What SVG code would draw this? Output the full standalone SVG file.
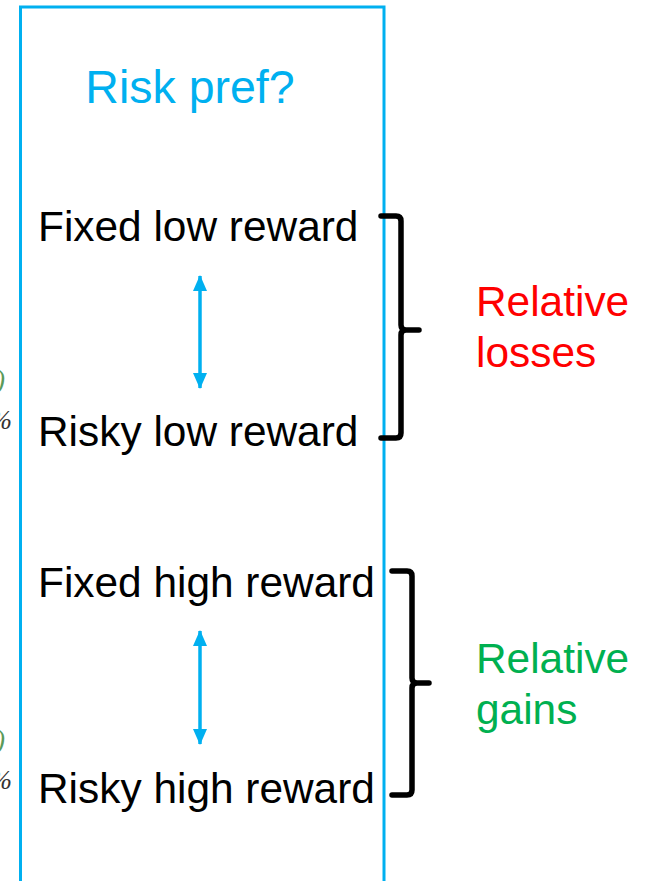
<svg xmlns="http://www.w3.org/2000/svg" width="646" height="881" viewBox="0 0 646 881">
<style>
.t{font-family:"Liberation Sans",Arial,sans-serif;font-size:42.4px;fill:#000}
.brace{fill:none;stroke:#000;stroke-width:5.5;stroke-linecap:round;stroke-linejoin:round}
.arr{stroke:#00B0F0;stroke-width:3.5}
.frag{font-family:"Liberation Serif","Times New Roman",serif;font-size:27px;font-style:italic}
</style>
<defs>
<marker id="ah" viewBox="0 0 16 14" refX="15" refY="7" markerWidth="16" markerHeight="14" orient="auto-start-reverse" markerUnits="userSpaceOnUse">
<path d="M0,0 L16,7 L0,14 Z" fill="#00B0F0"/>
</marker>
</defs>
<rect width="646" height="881" fill="#fff"/>
<g id="fragments">
<text class="frag" x="5" y="389" text-anchor="end" fill="#5a9a5a" font-style="normal">0)</text>
<text class="frag" x="12" y="429" text-anchor="end" fill="#333">%</text>
<text class="frag" x="5" y="749" text-anchor="end" fill="#5a9a5a" font-style="normal">0)</text>
<text class="frag" x="12" y="789" text-anchor="end" fill="#333">%</text>
</g>
<g id="panel">
<rect x="20.5" y="7" width="363.5" height="876" fill="none" stroke="#00B0F0" stroke-width="3"/>
<text x="190" y="103" text-anchor="middle" style="font-family:'Liberation Sans',Arial,sans-serif;font-size:46.5px;fill:#00B0F0">Risk pref?</text>
</g>
<g id="fixed-low"><text class="t" x="38" y="241">Fixed low reward</text></g>
<g id="risky-low"><text class="t" x="38" y="446">Risky low reward</text></g>
<g id="fixed-high"><text class="t" x="38" y="597">Fixed high reward</text></g>
<g id="risky-high"><text class="t" x="38" y="803">Risky high reward</text></g>
<g id="losses"><text class="t" x="476" y="316" style="fill:#FF0000">Relative</text><text class="t" x="476" y="367" style="fill:#FF0000">losses</text></g>
<g id="gains"><text class="t" x="476" y="673" style="fill:#00B050">Relative</text><text class="t" x="476" y="724" style="fill:#00B050">gains</text></g>
<g id="connectors">
<line class="arr" x1="200" y1="276" x2="200" y2="388" marker-start="url(#ah)" marker-end="url(#ah)"/>
<line class="arr" x1="200" y1="631" x2="200" y2="744" marker-start="url(#ah)" marker-end="url(#ah)"/>
<path class="brace" d="M381,216 L396,216 Q401,216 401,221 L401,325 Q401,330 406,330 L419,330 M406,330 Q401,330 401,335 L401,433 Q401,438 396,438 L381,438"/>
<path class="brace" d="M392,571 L407,571 Q412,571 412,576 L412,678 Q412,683 417,683 L429,683 M417,683 Q412,683 412,688 L412,790 Q412,795 407,795 L392,795"/>
</g>
</svg>
